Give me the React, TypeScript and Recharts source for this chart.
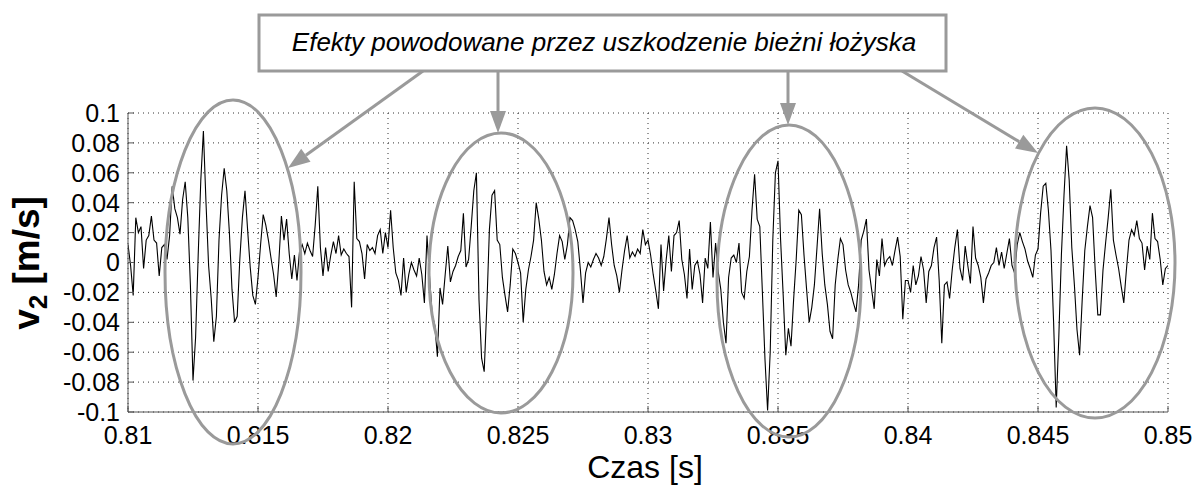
import { LineChart, Line, XAxis, YAxis, CartesianGrid } from "recharts";

// sampled vibration velocity v2 [m/s], one value every 0.1 ms from 0.81 s
const T0 = 0.81;
const DT = 0.0001;
const v2 = [
  0.012, -0.002, -0.022, 0.030, 0.020, 0.024, -0.004, 0.015, 0.018, 0.031,
  0.015, 0.013, -0.009, 0.010, 0.012, 0.002, 0.018, 0.051, 0.036, 0.030,
  0.019, 0.042, 0.054, 0.030, -0.015, -0.079, -0.050, 0.005, 0.055, 0.088,
  0.040, -0.002, -0.024, -0.053, -0.036, 0.015, 0.045, 0.063, 0.048, 0.020,
  -0.018, -0.040, -0.036, 0.002, 0.030, 0.048, 0.022, -0.003, -0.022, -0.028,
  -0.010, 0.012, 0.032, 0.025, 0.015, 0.003, -0.008, -0.023, 0.000, 0.031,
  0.015, 0.029, 0.006, -0.011, 0.005, -0.012, 0.008, 0.012, 0.006, 0.013,
  0.008, 0.004, 0.025, 0.051, 0.010, -0.009, 0.010, -0.006, 0.005, 0.014,
  0.006, 0.018, 0.005, 0.009, 0.006, 0.004, -0.030, 0.054, 0.016, 0.014,
  0.006, -0.011, 0.012, 0.008, 0.010, 0.006, 0.018, 0.022, 0.006, 0.020,

  0.010, 0.035, 0.010, -0.007, -0.012, -0.022, 0.003, -0.020, -0.008, 0.000,
  -0.005, -0.009, 0.003, -0.008, -0.027, 0.018, -0.010, -0.035, -0.042, -0.063,
  -0.017, -0.028, -0.008, 0.011, -0.013, -0.006, -0.002, 0.004, 0.008, 0.033,
  -0.003, 0.002, 0.024, 0.048, 0.060, -0.025, -0.064, -0.073, -0.030, 0.022,
  0.045, 0.048, 0.015, 0.012, -0.010, -0.022, -0.033, -0.015, 0.009, 0.006,
  0.000, -0.007, -0.040, -0.018, -0.005, 0.004, 0.015, 0.040, 0.029, 0.015,
  -0.006, -0.015, -0.010, -0.018, -0.008, 0.006, 0.018, 0.014, 0.002, 0.012,
  0.030, 0.028, 0.022, 0.014, -0.005, -0.027, -0.007, 0.000, -0.003, 0.002,
  0.006, 0.003, -0.002, 0.004, 0.016, 0.030, 0.012, -0.002, -0.009, -0.020,
  -0.005, 0.008, 0.018, 0.003, 0.007, 0.004, 0.009, 0.006, 0.022, 0.012,

  0.015, 0.005, -0.008, -0.019, -0.031, 0.012, -0.019, 0.002, 0.018, -0.006,
  0.018, 0.020, 0.028, 0.002, -0.008, -0.024, 0.009, -0.018, -0.002, 0.001,
  -0.008, -0.027, 0.003, -0.004, 0.027, -0.010, 0.013, -0.006, -0.018, -0.040,
  -0.054, -0.010, 0.003, 0.005, 0.000, 0.013, -0.020, -0.024, -0.006, 0.004,
  0.035, 0.059, 0.029, 0.024, -0.020, -0.065, -0.099, -0.060, 0.015, 0.060,
  0.068, 0.015, -0.022, -0.062, -0.044, -0.056, -0.025, 0.002, 0.035, 0.032,
  0.005, -0.018, -0.040, -0.030, -0.015, 0.010, 0.036, 0.006, -0.015, -0.028,
  -0.046, -0.051, -0.015, 0.002, 0.016, 0.012, -0.005, -0.015, -0.020, -0.027,
  -0.033, -0.015, 0.015, 0.021, 0.029, -0.005, -0.018, -0.031, 0.002, -0.009,
  0.016, -0.002, 0.002, 0.004, -0.002, 0.008, 0.017, 0.004, -0.038, -0.012,

  -0.012, -0.020, -0.002, -0.015, -0.009, 0.004, -0.005, -0.027, -0.006, -0.002,
  0.010, 0.017, -0.012, -0.054, -0.015, -0.013, -0.024, -0.005, 0.010, 0.022,
  -0.004, -0.012, 0.011, -0.002, -0.014, 0.024, 0.003, -0.002, -0.010, -0.027,
  -0.011, -0.007, -0.002, 0.000, 0.010, -0.002, 0.007, -0.004, 0.006, 0.016,
  -0.002, -0.007, 0.012, 0.020, 0.014, 0.009, 0.001, -0.004, -0.010, 0.005,
  0.009, 0.033, 0.051, 0.053, 0.035, 0.008, -0.040, -0.097, -0.050, 0.005,
  0.045, 0.078, 0.055, 0.010, -0.015, -0.045, -0.062, -0.025, 0.008, 0.024,
  0.038, 0.030, -0.005, -0.035, -0.035, -0.005, 0.013, 0.030, 0.049, 0.015,
  0.005, -0.004, -0.016, -0.027, -0.005, 0.015, 0.022, 0.018, 0.028, 0.016,
  0.013, -0.005, 0.011, 0.002, 0.033, 0.016, 0.014, 0.002, -0.015, -0.004,
  -0.002,
];

const xTicks = [0.81, 0.815, 0.82, 0.825, 0.83, 0.835, 0.84, 0.845, 0.85];
const xTickLabels = ["0.81", "0.815", "0.82", "0.825", "0.83", "0.835", "0.84", "0.845", "0.85"];
const yTicks = [-0.1, -0.08, -0.06, -0.04, -0.02, 0, 0.02, 0.04, 0.06, 0.08, 0.1];
const yTickLabels = ["-0.1", "-0.08", "-0.06", "-0.04", "-0.02", "0", "0.02", "0.04", "0.06", "0.08", "0.1"];

const note = "Efekty powodowane przez uszkodzenie bieżni łożyska";

const data = v2.map((v, i) => ({ t: T0 + i * DT, v }));

const FONT = "'Liberation Sans', Arial, Helvetica, sans-serif";
const GRAY = "#9a9a9a";
const AXIS = "#555";

const fmtX = (t: number) => xTickLabels[xTicks.findIndex((x) => Math.abs(x - t) < 1e-9)] ?? "";
const fmtY = (v: number) => yTickLabels[yTicks.findIndex((y) => Math.abs(y - v) < 1e-9)] ?? "";

// annotation overlay (pixels)
const ellipses = [
  { cx: 233, cy: 272, rx: 68, ry: 172 },
  { cx: 501, cy: 273, rx: 72, ry: 140 },
  { cx: 789, cy: 281, rx: 72, ry: 156 },
  { cx: 1095, cy: 263, rx: 80, ry: 155 },
];
const arrows = [
  [423, 71, 288, 168],
  [498, 71, 498, 133],
  [788, 71, 788, 125],
  [902, 71, 1038, 153],
];

function Arrow({ x1, y1, x2, y2 }: { x1: number; y1: number; x2: number; y2: number }) {
  const len = Math.hypot(x2 - x1, y2 - y1);
  const ux = (x2 - x1) / len;
  const uy = (y2 - y1) / len;
  const L = 22;
  const W = 8;
  const bx = x2 - ux * L;
  const by = y2 - uy * L;
  const pts = `${x2},${y2} ${bx - uy * W},${by + ux * W} ${bx + uy * W},${by - ux * W}`;
  return (
    <g>
      <line x1={x1} y1={y1} x2={bx} y2={by} stroke={GRAY} strokeWidth={3} />
      <polygon points={pts} fill={GRAY} />
    </g>
  );
}

export default function App() {
  const tickStyle = { fill: "#000", fontSize: 25, fontFamily: FONT };
  return (
    <div style={{ position: "relative", width: 1198, height: 486, background: "#fff" }}>
      <style>{`body{margin:0}`}</style>
      <LineChart width={1198} height={486} data={data} margin={{ top: 113, right: 30, bottom: 34, left: 68 }}>
        <CartesianGrid stroke="#333" strokeDasharray="1 4" />
        <XAxis
          dataKey="t"
          type="number"
          domain={[0.81, 0.85]}
          allowDataOverflow
          ticks={xTicks}
          tickFormatter={fmtX}
          interval={0}
          height={40}
          stroke={AXIS}
          tickSize={-6}
          tickMargin={20}
          tick={tickStyle}
        />
        <XAxis
          xAxisId="top"
          orientation="top"
          type="number"
          domain={[0.81, 0.85]}
          ticks={xTicks}
          interval={0}
          height={0}
          stroke={AXIS}
          tickSize={-6}
          tick={false}
        />
        <YAxis
          type="number"
          domain={[-0.1, 0.1]}
          allowDataOverflow
          ticks={yTicks}
          tickFormatter={fmtY}
          interval={0}
          width={60}
          stroke={AXIS}
          tickSize={-6}
          tickMargin={14}
          tick={tickStyle}
        />
        <YAxis
          yAxisId="right"
          orientation="right"
          type="number"
          domain={[-0.1, 0.1]}
          ticks={yTicks}
          interval={0}
          width={0}
          stroke={AXIS}
          tickSize={-6}
          tick={false}
        />
        <Line type="linear" dataKey="v" stroke="#000" strokeWidth={1.1} dot={false} isAnimationActive={false} />
      </LineChart>
      <svg width={1198} height={486} style={{ position: "absolute", left: 0, top: 0, pointerEvents: "none" }}>
        {ellipses.map((e, i) => (
          <ellipse key={i} cx={e.cx} cy={e.cy} rx={e.rx} ry={e.ry} fill="none" stroke={GRAY} strokeWidth={3} />
        ))}
        {arrows.map(([x1, y1, x2, y2], i) => (
          <Arrow key={i} x1={x1} y1={y1} x2={x2} y2={y2} />
        ))}
        <rect x={259} y={15} width={687} height={56} fill="#fff" stroke={GRAY} strokeWidth={3} />
        <text x={604} y={51} textAnchor="middle" fontFamily={FONT} fontStyle="italic" fontSize={26} fill="#000">
          {note}
        </text>
        <text x={645} y={478} textAnchor="middle" fontFamily={FONT} fontSize={32} fill="#000">
          Czas [s]
        </text>
        <text
          x={39}
          y={263}
          textAnchor="middle"
          fontFamily={FONT}
          fontWeight="bold"
          fontSize={37}
          fill="#000"
          transform="rotate(-90 39 263)"
        >
          v<tspan fontSize={26} dy={8}>2</tspan>
          <tspan dy={-8}> [m/s]</tspan>
        </text>
      </svg>
    </div>
  );
}
